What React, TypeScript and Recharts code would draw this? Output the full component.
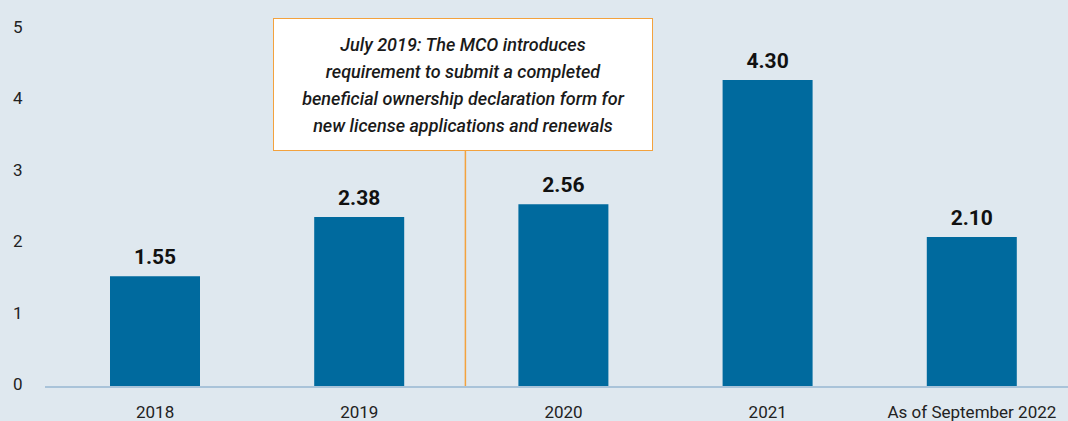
import { BarChart, Bar, XAxis, YAxis, LabelList, ReferenceLine } from "recharts";

const years = ["2018", "2019", "2020", "2021", "As of September 2022"];
const values = [1.55, 2.38, 2.56, 4.3, 2.1];
const yTicks = [0, 1, 2, 3, 4, 5];
const noteLines = [
  "July 2019: The MCO introduces",
  "requirement to submit a completed",
  "beneficial ownership declaration form for",
  "new license applications and renewals",
];

const BG = "#dfe8ef";
const BAR = "#006a9e";
const ORANGE = "#f3a23e";
const FONT = "Roboto, sans-serif";

const chartData = years.map((name, i) => ({ name, value: values[i] }));

function YTick(props: any) {
  const { y, payload } = props;
  return (
    <text x={13} y={y - 3} dy="0.355em" fontSize={17} fill="#222" fontFamily={FONT}>
      {payload.value}
    </text>
  );
}

// marker sits a touch right of the 2019/2020 band boundary
function NoteLine(props: any) {
  const { x1, y1, x2, y2 } = props;
  return <line x1={x1 + 4} y1={y1} x2={x2 + 4} y2={y2} stroke={ORANGE} strokeWidth={1.5} />;
}

export default function App() {
  return (
    <div
      style={{
        position: "absolute",
        left: 0,
        top: 0,
        width: 1068,
        height: 421,
        overflow: "hidden",
        background: BG,
        fontFamily: FONT,
      }}
    >
      <BarChart
        width={1074}
        height={421}
        data={chartData}
        margin={{ top: 30, right: 0, bottom: 0, left: 0 }}
      >
        <XAxis
          dataKey="name"
          height={34}
          padding={{ left: 8, right: 0 }}
          tickLine={false}
          tickSize={0}
          tickMargin={19}
          axisLine={{ stroke: "#a9c3d9", strokeWidth: 2 }}
          tick={{ fontSize: 17, fill: "#222", fontFamily: FONT }}
          interval={0}
        />
        <YAxis
          width={45}
          domain={[0, 5]}
          ticks={yTicks}
          axisLine={false}
          tickLine={false}
          tick={<YTick />}
        />
        <ReferenceLine
          x="2019"
          position="end"
          stroke={ORANGE}
          strokeWidth={1.5}
          ifOverflow="visible"
          shape={NoteLine}
        />
        <Bar dataKey="value" fill={BAR} barSize={90} isAnimationActive={false}>
          <LabelList
            dataKey="value"
            position="top"
            offset={12}
            formatter={(v: any) => Number(v).toFixed(2)}
            style={{ fontSize: 21, fontWeight: 700, fill: "#111", fontFamily: FONT }}
          />
        </Bar>
      </BarChart>
      <div
        style={{
          position: "absolute",
          left: 273,
          top: 18,
          width: 378,
          height: 131,
          background: "#fff",
          border: `1.5px solid ${ORANGE}`,
          display: "flex",
          flexDirection: "column",
          justifyContent: "center",
          alignItems: "center",
          fontStyle: "italic",
          fontWeight: 500,
          fontSize: 18,
          lineHeight: "27px",
          color: "#1a1a1a",
          textAlign: "center",
        }}
      >
        {noteLines.map((l) => (
          <div key={l}>{l}</div>
        ))}
      </div>
    </div>
  );
}
